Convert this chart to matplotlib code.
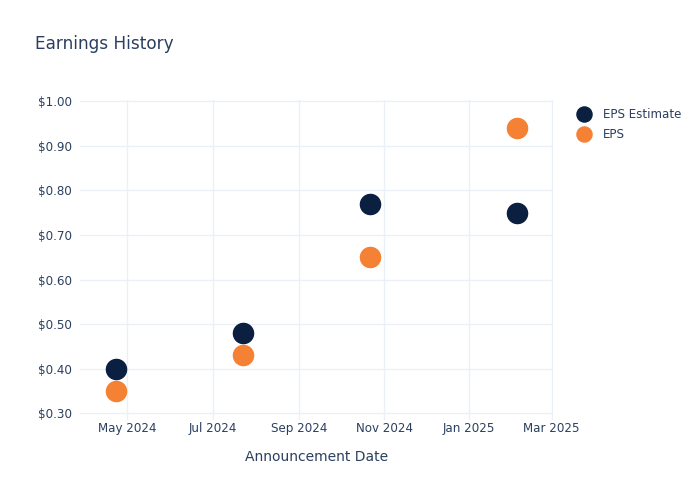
import matplotlib
matplotlib.use("Agg")
import matplotlib.pyplot as plt
import matplotlib.dates as mdates
from matplotlib.ticker import FuncFormatter
from datetime import datetime

# announcement dates and values
dates = [datetime(2024, 4, 23), datetime(2024, 7, 23),
         datetime(2024, 10, 22), datetime(2025, 2, 4)]
eps_estimate = [0.40, 0.48, 0.77, 0.75]
eps_actual = [0.35, 0.43, 0.65, 0.94]

TEXT = "#2a3f5f"
GRID = "#ebf0f8"
NAVY = "#0b1f41"
ORANGE = "#f58134"


def main() -> None:
    fig = plt.figure(figsize=(7, 5), dpi=100)
    ax = fig.add_axes([80 / 700, 80 / 500, 473 / 700, 320 / 500])

    ax.plot(dates, eps_estimate, "o", ms=14.5, color=NAVY, label="EPS Estimate",
            zorder=3)
    ax.plot(dates, eps_actual, "o", ms=14.5, color=ORANGE, label="EPS", zorder=3)

    ax.set_xlim(datetime(2024, 3, 28), datetime(2025, 3, 2))
    ax.set_ylim(0.285, 1.003)
    ax.set_yticks([0.3, 0.4, 0.5, 0.6, 0.7, 0.8, 0.9, 1.0])
    ax.yaxis.set_major_formatter(FuncFormatter(lambda v, p: "${:.2f}".format(v)))
    ax.xaxis.set_major_locator(mdates.MonthLocator(bymonth=[1, 3, 5, 7, 9, 11]))
    ax.xaxis.set_major_formatter(mdates.DateFormatter("%b %Y"))

    for s in ax.spines.values():
        s.set_visible(False)
    ax.grid(True, color=GRID, linewidth=1)
    ax.set_axisbelow(True)
    ax.tick_params(length=0, labelsize=8.6, colors=TEXT, pad=6)
    ax.tick_params(axis="x", pad=1.5)

    ax.set_xlabel("Announcement Date", fontsize=10, color=TEXT, labelpad=10.5)
    fig.text(35 / 700, 1 - 44 / 500, "Earnings History", fontsize=12.2,
             color=TEXT, va="center", ha="left")

    fig.legend(loc="upper left", bbox_to_anchor=(572 / 700, 1 - 103 / 500),
               frameon=False, fontsize=8.6, labelcolor=TEXT, handletextpad=1.0,
               labelspacing=0.6, borderaxespad=0, handlelength=1.2,
               markerscale=0.75)

    fig.savefig("out.png", dpi=100)


if __name__ == "__main__":
    main()
